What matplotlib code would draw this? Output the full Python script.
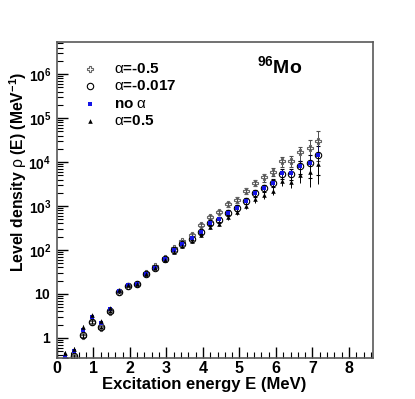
import numpy as np
import matplotlib
matplotlib.use("Agg")
import matplotlib.pyplot as plt
from matplotlib.ticker import MultipleLocator, FixedLocator, FuncFormatter, NullFormatter

plt.rcParams['font.family'] = ['Liberation Sans', 'DejaVu Sans']
plt.rcParams['mathtext.fontset'] = 'custom'
plt.rcParams['mathtext.rm'] = 'Liberation Sans'
plt.rcParams['mathtext.bf'] = 'Liberation Sans:bold'
plt.rcParams['mathtext.it'] = 'Liberation Sans:italic'

# excitation energy bins (MeV)
energy = [0.22, 0.47, 0.72, 0.96, 1.21, 1.46, 1.71, 1.96, 2.20, 2.45,
          2.70, 2.95, 3.20, 3.44, 3.69, 3.94, 4.19, 4.44, 4.68, 4.93,
          5.18, 5.43, 5.68, 5.92, 6.17, 6.42, 6.67, 6.92, 7.16]

# level density for the different alpha values (MeV^-1)
rho_m05 = [0.30, 0.36, 1.08, 2.25, 1.72, 3.9, 10.8, 15.5, 17.0, 29.5,
           42, 66, 112, 158, 220, 370, 575, 740, 1100, 1380,
           2190, 3390, 4470, 6030, 10500, 10500, 16600, 20400, 30200]
rho_m0017 = [0.31, 0.38, 1.15, 2.35, 1.80, 4.0, 11.0, 15.3, 16.8, 28.0,
             39.5, 61, 99, 136, 182, 255, 400, 490, 700, 910,
             1310, 1930, 2540, 3380, 5450, 5450, 8000, 9450, 14300]
rho_noalpha = [0.37, 0.49, 1.50, 2.95, 2.20, 4.5, 11.9, 15.8, 17.0, 28.4,
               39.7, 61.5, 100, 137, 184, 260, 410, 500, 707, 920,
               1320, 1950, 2560, 3400, 5500, 5500, 8100, 9550, 14450]
rho_p05 = [0.45, 0.56, 1.78, 3.3, 2.4, 4.9, 12.5, 16.0, 17.0, 28.0,
           38, 58, 92, 122, 160, 215, 330, 390, 560, 720,
           1000, 1450, 1780, 2240, 3720, 3550, 5000, 6030, 8900]

# relative statistical errors
rel_err = [0.10, 0.10, 0.08, 0.06, 0.06, 0.05, 0.03, 0.03, 0.03, 0.04,
           0.04, 0.05, 0.06, 0.07, 0.08, 0.09, 0.10, 0.12, 0.13, 0.15,
           0.16, 0.18, 0.20, 0.22, 0.25, 0.28, 0.35, 0.55, 0.65]

# axis ticks
x_ticks = [0, 1, 2, 3, 4, 5, 6, 7, 8]
y_ticks = [1, 10, 1e2, 1e3, 1e4, 1e5, 1e6]

E = np.array(energy)
err = np.array(rel_err)

fig = plt.figure(figsize=(4.15, 3.99), dpi=100)
ax = fig.add_axes([0.137, 0.103, 0.762, 0.792])

blue = '#1414e6'
series = [
    (rho_m05, dict(marker='P', ms=4.5, mfc='none', mec='0.4', mew=0.8), '0.3'),
    (rho_m0017, dict(marker='o', ms=4.6, mfc='none', mec='black', mew=0.8), 'black'),
    (rho_noalpha, dict(marker='s', ms=3.2, mfc=blue, mec=blue, mew=0), '#101060'),
    (rho_p05, dict(marker='^', ms=3.3, mfc='black', mec='black', mew=0), 'black'),
]
for vals, style, ecol in series:
    v = np.array(vals)
    ax.errorbar(E, v, yerr=v * err, ls='none', ecolor=ecol, elinewidth=0.7,
                capsize=1.2, capthick=0.7, **style)

ax.set_yscale('log')
ax.set_xlim(0, 8.66)
ax.set_ylim(0.35, 5.4e6)

# minor ticks: 2..9 in every decade visible on the axis
minor_y = [m * 10.0 ** d for d in range(-1, 7) for m in range(2, 10)]
minor_y = [v for v in minor_y if 0.35 <= v <= 5.4e6]

ax.xaxis.set_major_locator(FixedLocator(x_ticks))
ax.xaxis.set_minor_locator(MultipleLocator(0.2))
ax.yaxis.set_major_locator(FixedLocator(y_ticks))
ax.yaxis.set_minor_locator(FixedLocator(minor_y))
ax.yaxis.set_minor_formatter(NullFormatter())
ax.xaxis.set_minor_formatter(NullFormatter())


def ylab(v, pos):
    p = int(round(np.log10(v)))
    if p == 0:
        return r'$\mathbf{1}$'
    if p == 1:
        return r'$\mathbf{10}$'
    return r'$\mathbf{10^{%d}}$' % p


ax.yaxis.set_major_formatter(FuncFormatter(ylab))
ax.xaxis.set_major_formatter(FuncFormatter(lambda v, p: '%d' % v))

ax.tick_params(which='both', direction='in', top=False, right=False)
ax.tick_params(axis='y', labelsize=10, pad=4)
ax.tick_params(axis='x', labelsize=11.5, pad=2)
ax.tick_params(which='major', length=8, width=1)
ax.tick_params(which='minor', length=4, width=0.8)
for lab in ax.get_xticklabels():
    lab.set_fontweight('bold')
for s in ax.spines.values():
    s.set_color('0.35')
    s.set_linewidth(1.2)

fig.text(204 / 415, 1 - 385 / 399, 'Excitation energy E (MeV)', ha='center', va='center',
         fontsize=12, fontweight='bold')
fig.text(18 / 415, 1 - 172 / 399, r'Level density $\mathrm{\rho}$ (E) (MeV$^{\mathbf{-1}}$)',
         rotation=90, ha='center', va='center', fontsize=11.3, fontweight='bold')

ax.text((257 - 57) / 316, 1 - (66 - 42) / 316, r'$^{\mathbf{96}}$Mo', transform=ax.transAxes,
        fontsize=14, fontweight='bold', ha='left', va='center')

# legend drawn by hand, ROOT style
labels = [r'$\mathrm{\alpha}$=-0.5', r'$\mathrm{\alpha}$=-0.017',
          r'no $\mathrm{\alpha}$', r'$\mathrm{\alpha}$=0.5']
for k, (lab, (vals, style, ecol)) in enumerate(zip(labels, series)):
    y = 1 - (69 + 17.4 * k - 42) / 316
    ax.plot([0.105], [y], transform=ax.transAxes, ls='none', **style)
    ax.text(0.18, y, lab, transform=ax.transAxes, fontsize=11, fontweight='bold',
            ha='left', va='center')

fig.savefig('out.png', dpi=100)
